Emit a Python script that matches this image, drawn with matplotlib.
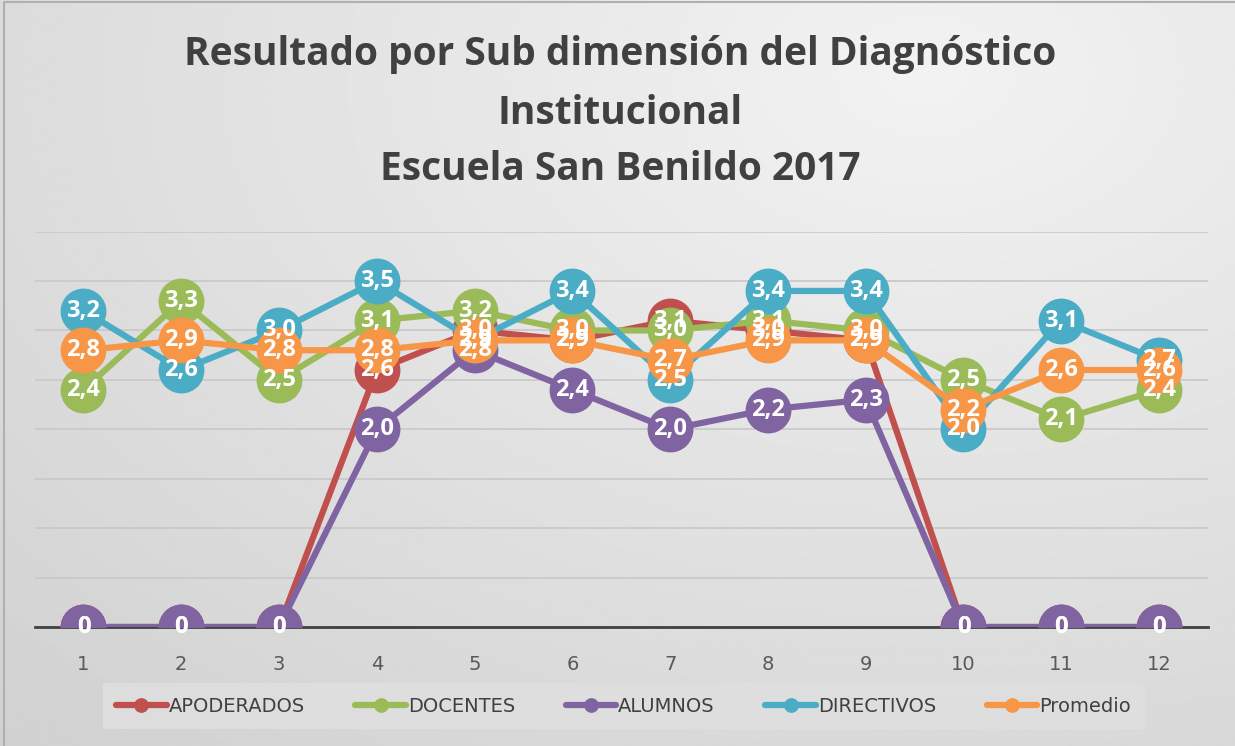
import numpy as np
import matplotlib.pyplot as plt

# data
categories = list(range(1, 13))
apoderados = [0, 0, 0, 2.6, 3.0, 2.9, 3.1, 3.0, 2.9, 0, 0, 0]
docentes = [2.4, 3.3, 2.5, 3.1, 3.2, 3.0, 3.0, 3.1, 3.0, 2.5, 2.1, 2.4]
alumnos = [0, 0, 0, 2.0, 2.8, 2.4, 2.0, 2.2, 2.3, 0, 0, 0]
directivos = [3.2, 2.6, 3.0, 3.5, 2.9, 3.4, 2.5, 3.4, 3.4, 2.0, 3.1, 2.7]
promedio = [2.8, 2.9, 2.8, 2.8, 2.9, 2.9, 2.7, 2.9, 2.9, 2.2, 2.6, 2.6]
title_lines = ["Resultado por Sub dimensión del Diagnóstico", "Institucional",
               "Escuela San Benildo 2017"]

series = [
    ("APODERADOS", apoderados, "#c0504d"),
    ("DOCENTES", docentes, "#9bbb59"),
    ("ALUMNOS", alumnos, "#8064a2"),
    ("DIRECTIVOS", directivos, "#4bacc6"),
    ("Promedio", promedio, "#f79646"),
]


def fmt(v):
    if v == 0:
        return "0"
    return f"{v:.1f}".replace(".", ",")


fig = plt.figure(figsize=(12.35, 7.46), dpi=100)

# soft gradient background, darker towards left and bottom
bg = fig.add_axes([0, 0, 1, 1], zorder=-10)
yy, xx = np.mgrid[0:1:300j, 0:1:500j]
r = np.sqrt(((xx - 0.75) / 1.1) ** 2 + ((yy - 0.1) / 1.2) ** 2)
shade = 0.95 - 0.13 * np.clip(r, 0, 1.0)
bg.imshow(shade, cmap="gray", vmin=0, vmax=1, aspect="auto", extent=[0, 1, 0, 1], origin="upper")
bg.plot([0.003, 0.003, 1], [0, 0.997, 0.997], color="#b0b0b0", lw=1.5)
bg.set_xlim(0, 1)
bg.set_ylim(0, 1)
bg.axis("off")

ax = fig.add_axes([0.028, 0.1595, 0.95, 0.53])
ax.patch.set_alpha(0)

for i, (name, vals, color) in enumerate(series):
    ax.plot(categories, vals, color=color, lw=4.5, marker="o", ms=32,
            mec=color, mfc=color, label=name, zorder=3 + i, solid_capstyle="round")

for i, (name, vals, color) in enumerate(series):
    for x, v in zip(categories, vals):
        ax.text(x, v, fmt(v), ha="center", va="center", color="white",
                fontsize=17, fontweight="bold", family="Open Sans", zorder=20 + i)

ax.set_xlim(0.5, 12.5)
ax.set_ylim(0, 4)
ax.set_yticks(np.arange(0, 4.01, 0.5))
ax.yaxis.grid(True, color="#c8c8c8", lw=1.2)
ax.set_axisbelow(True)
ax.tick_params(axis="y", left=False, labelleft=False)
ax.set_xticks(categories)
ax.tick_params(axis="x", length=0, labelsize=14, labelcolor="#595959", pad=20)
for s in ["top", "right", "left"]:
    ax.spines[s].set_visible(False)
ax.spines["bottom"].set_color("#404040")
ax.spines["bottom"].set_linewidth(2)
ax.spines["bottom"].set_zorder(2)

for line, ypx in zip(title_lines, [55, 113, 170]):
    fig.text(0.502, 1 - ypx / 746, line, ha="center", va="center", fontsize=28,
             fontweight="bold", color="#404040", family="Open Sans")

leg = ax.legend(loc="center", bbox_to_anchor=(0.502, -0.2), ncol=5, frameon=True,
                fontsize=14, markerscale=0.3, handlelength=2.6, columnspacing=2.6,
                handletextpad=0.1, borderpad=0.7, fancybox=False)
leg.get_frame().set_facecolor("#e0e0e0")
leg.get_frame().set_edgecolor("none")
for t in leg.get_texts():
    t.set_color("#404040")

fig.savefig("out.png", dpi=100)
